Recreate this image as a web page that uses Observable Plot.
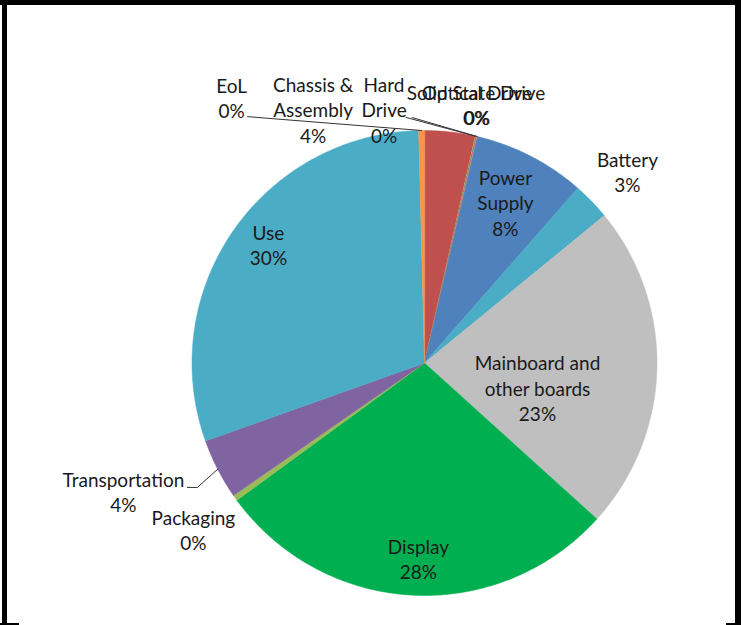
<!DOCTYPE html>
<html><head><meta charset="utf-8">
<script src="https://cdn.jsdelivr.net/npm/d3@7"></script>
<script src="https://cdn.jsdelivr.net/npm/@observablehq/plot@0.6"></script>
<style>
body{margin:0;background:#fff;}
#wrap{position:relative;width:744px;height:625px;overflow:hidden;background:#fff;}
#chart svg{display:block;}
.bar{position:absolute;background:#000;}
</style></head><body>
<div id="wrap">
<div id="chart"></div>
<div class="bar" style="left:0;top:0;width:741px;height:5px"></div>
<div class="bar" style="left:2px;top:0;width:5px;height:625px"></div>
<div class="bar" style="left:735px;top:0;width:6px;height:625px"></div>
<div class="bar" style="left:0;top:623px;width:19px;height:2px"></div>
<div class="bar" style="left:726px;top:623px;width:15px;height:2px"></div>
</div>
<script>
// ---- data (clockwise from 12 o'clock) ----
const categories = ["Chassis & Assembly","Hard Drive","Optical Drive","Solid State Drive","Power Supply","Battery","Mainboard and other boards","Display","Packaging","Transportation","Use","EoL"];
const values = [3.5, 0.05, 0.05, 0.05, 7.8, 2.6, 22.6, 28.2, 0.4, 4.2, 30.0, 0.4];
const labelTexts = ["Chassis &\nAssembly","Hard\nDrive","Optical Drive","Solid State Drive","Power\nSupply","Battery","Mainboard and\nother boards","Display","Packaging","Transportation","Use","EoL"];
const colors = ["#C0504D","#9BBB59","#8064A2","#F79646","#4F81BD","#4BACC6","#BFBFBF","#00B050","#9BBB59","#8064A2","#4BACC6","#F79646"];

// ---- layout (unit pie coordinates, y up) ----
const cx = 424, cy = 362.5, R = 232.5;
const labelPos = {
  "Chassis & Assembly": [-0.479, 1.082],
  "Hard Drive": [-0.174, 1.082],
  "Optical Drive": [0.226, 1.103],
  "Solid State Drive": [0.222, 1.103],
  "Power Supply": [0.348, 0.682],
  "Battery": [0.873, 0.815],
  "Mainboard and other boards": [0.486, -0.114],
  "Display": [-0.026, -0.849],
  "Packaging": [-0.994, -0.725],
  "Transportation": [-1.295, -0.561],
  "Use": [-0.671, 0.501],
  "EoL": [-0.830, 1.135]
};
// leader start offsets in px relative to label centre (x right, y down)
const leaderOffsets = {
  "EoL": [[16, 17.5], [34, 19]],
  "Hard Drive": [[22, 6]],
  "Solid State Drive": [[-64, 11]],
  "Transportation": [[64, -6], [74, -6]]
};

const total = d3.sum(values);
const arcs = d3.pie().sort(null).value(d => d)(values);

const slicePts = [];
arcs.forEach((a, i) => {
  const name = categories[i];
  slicePts.push({name, x: 0, y: 0});
  const n = Math.max(2, Math.ceil((a.endAngle - a.startAngle) / (Math.PI / 360)));
  for (let k = 0; k <= n; k++) {
    const t = a.startAngle + (a.endAngle - a.startAngle) * k / n;
    slicePts.push({name, x: Math.sin(t), y: Math.cos(t)});
  }
});

const labels = categories.map((name, i) => ({
  name,
  x: labelPos[name][0],
  y: labelPos[name][1],
  text: labelTexts[i] + "\n" + Math.round(values[i] / total * 100) + "%"
}));

const leaders = [];
categories.forEach((name, i) => {
  if (!leaderOffsets[name]) return;
  const [lx, ly] = labelPos[name];
  leaderOffsets[name].forEach(([dx, dy]) => leaders.push({name, x: lx + dx / R, y: ly - dy / R}));
  const mid = (arcs[i].startAngle + arcs[i].endAngle) / 2;
  leaders.push({name, x: Math.sin(mid), y: Math.cos(mid)});
});

const chart = Plot.plot({
  width: 744,
  height: 625,
  margin: 0,
  x: {domain: [-1, 1], range: [cx - R, cx + R], axis: null},
  y: {domain: [-1, 1], range: [cy + R, cy - R], axis: null},
  color: {domain: categories, range: colors},
  style: {fontFamily: "Lato, sans-serif", background: "transparent"},
  marks: [
    Plot.line(slicePts, {x: "x", y: "y", z: "name", fill: "name", stroke: "name", strokeWidth: 0.5, curve: "linear-closed"}),
    Plot.line(leaders, {x: "x", y: "y", z: "name", stroke: "#333", strokeWidth: 1}),
    Plot.text(labels, {x: "x", y: "y", dy: -2, text: "text", fontSize: 19, lineHeight: 1.32, fill: "#1a1a1a"})
  ]
});
document.getElementById("chart").appendChild(chart);
</script>
</body></html>
